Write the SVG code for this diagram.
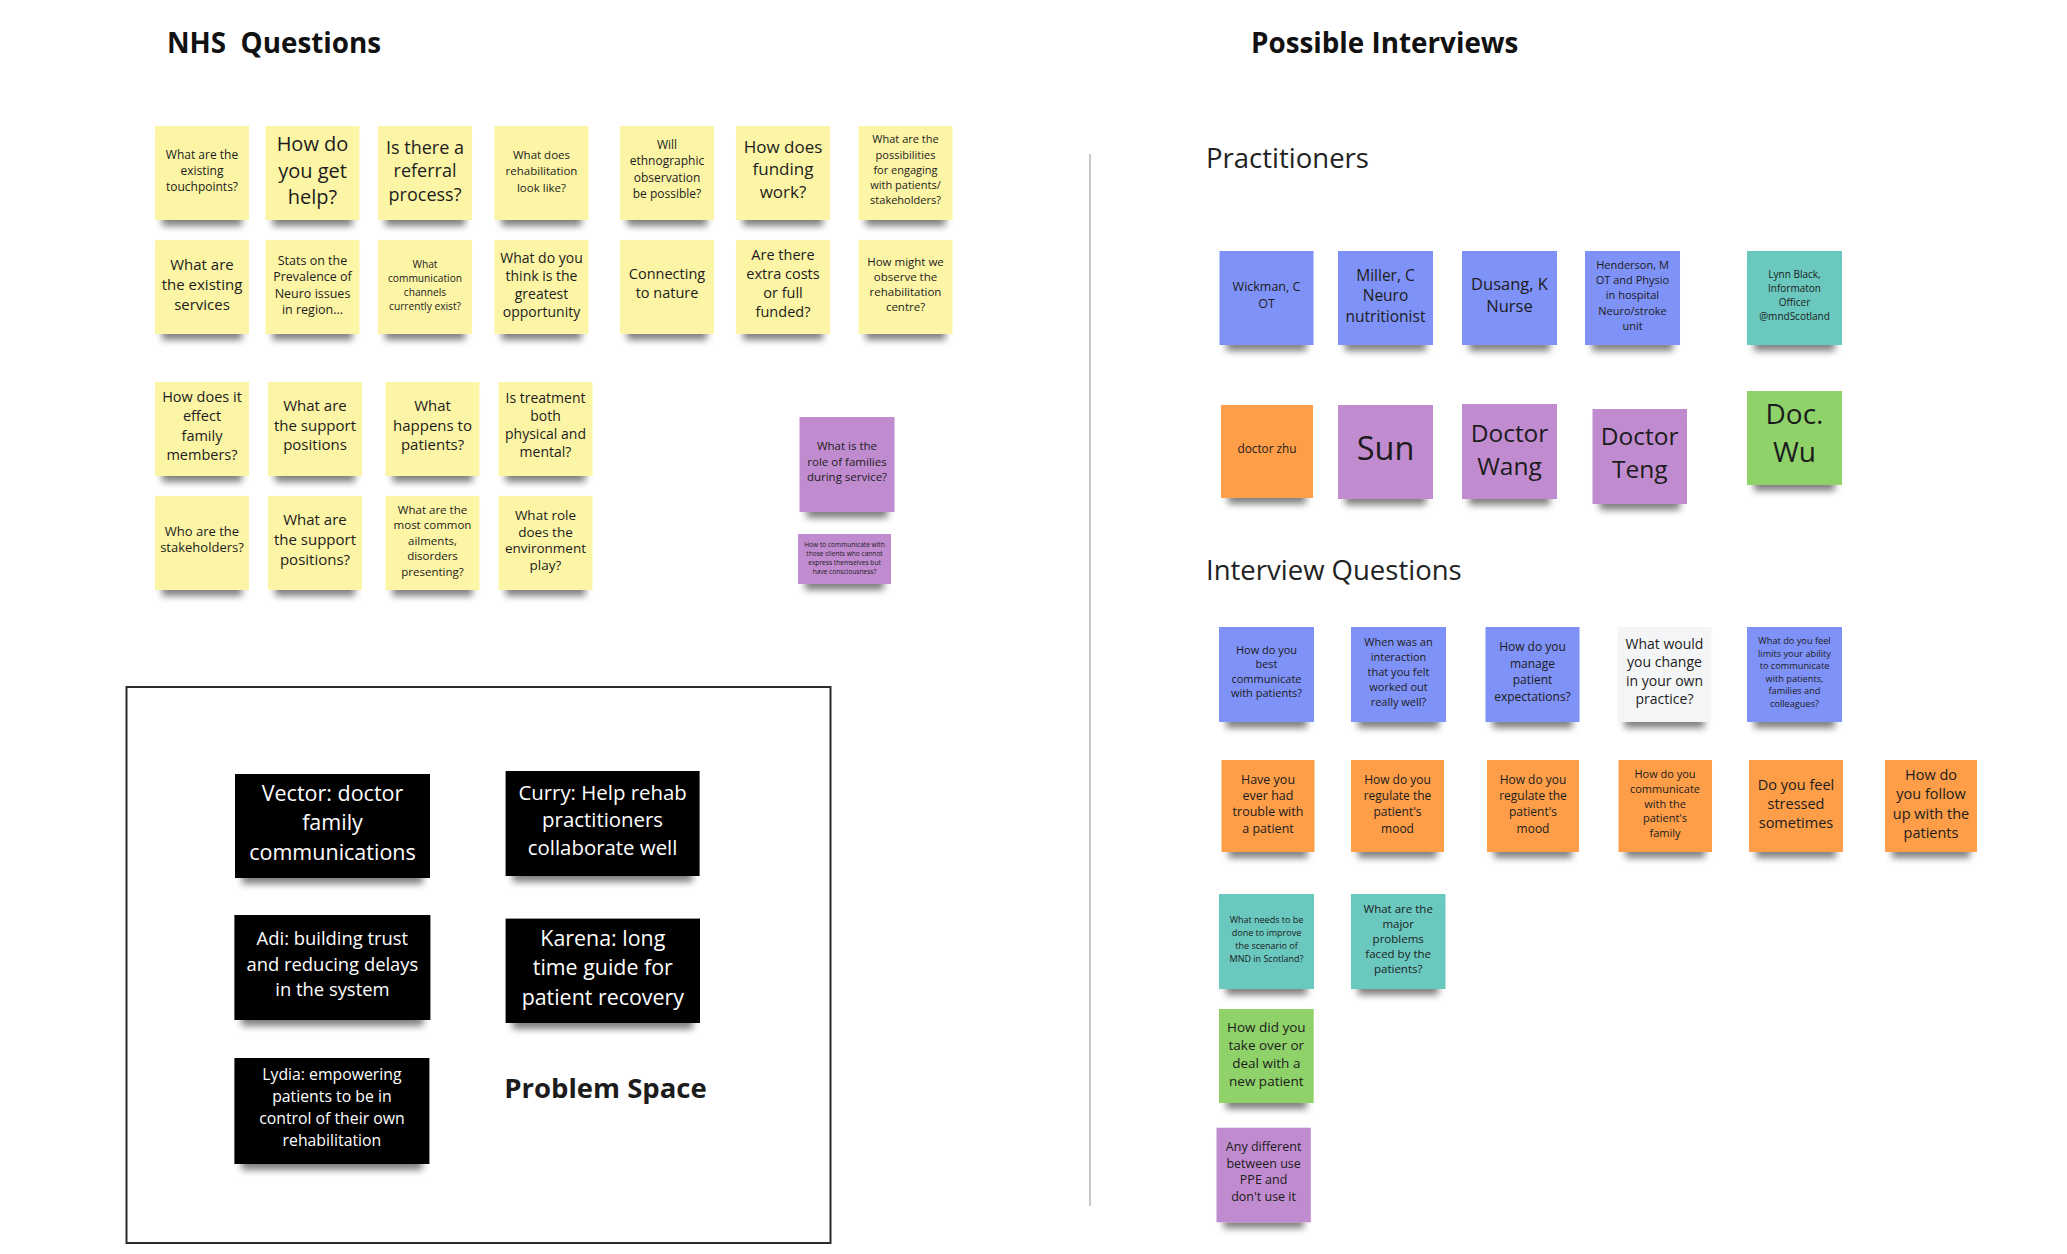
<svg xmlns="http://www.w3.org/2000/svg" width="2067" height="1254" viewBox="0 0 2067 1254">
<defs>
<filter id="sh" x="-20%" y="-20%" width="140%" height="150%">
<feMorphology in="SourceAlpha" operator="erode" radius="7 2" result="e"/>
<feOffset in="e" dy="8" result="o"/>
<feGaussianBlur in="o" stdDeviation="3.5" result="b"/>
<feComponentTransfer in="b" result="c"><feFuncA type="linear" slope="0.5"/></feComponentTransfer>
<feMerge><feMergeNode in="c"/><feMergeNode in="SourceGraphic"/></feMerge>
</filter>
<style>
.n{filter:url(#sh)}
.y{fill:#fdf5a6}.b{fill:#7f92f7}.t{fill:#6bc8bf}.o{fill:#fe9e4a}.p{fill:#c18bcf}.g{fill:#8fd26a}.w{fill:#f4f5f7}.k{fill:#050505}
text{font-family:"Open Sans","Noto Sans","Liberation Sans",sans-serif;text-anchor:middle;fill:#1c1c1c}
.wt{fill:#ffffff}
.h{font-weight:bold;font-size:27.8px;text-anchor:start;fill:#111}
.s{font-size:27.5px;text-anchor:start;fill:#222}
</style>
</defs>
<rect width="2067" height="1254" fill="#ffffff"/>
<text class="h" x="167" y="53" xml:space="preserve">NHS  Questions</text>
<text class="h" x="1251" y="53">Possible Interviews</text>
<text class="s" x="1206" y="168">Practitioners</text>
<text class="s" x="1206" y="580">Interview Questions</text>
<rect x="126.5" y="687" width="704" height="556" fill="none" stroke="#2b2b2b" stroke-width="2"/>
<line x1="1090" y1="154" x2="1090" y2="1206" stroke="#c8c8c8" stroke-width="2"/>

<g id="q1"><rect class="n y" x="155" y="126" width="94" height="94"/><text font-size="12" x="202" y="158.6"><tspan x="202">What are the</tspan><tspan x="202" dy="16.3">existing</tspan><tspan x="202" dy="16.3">touchpoints?</tspan></text></g>
<g id="q2"><rect class="n y" x="265.5" y="126" width="94" height="94"/><text font-size="20" x="312.5" y="151"><tspan x="312.5">How do</tspan><tspan x="312.5" dy="26.5">you get</tspan><tspan x="312.5" dy="26.5">help?</tspan></text></g>
<g id="q3"><rect class="n y" x="378" y="126" width="94" height="94"/><text font-size="18" x="425" y="153.6"><tspan x="425">Is there a</tspan><tspan x="425" dy="23.8">referral</tspan><tspan x="425" dy="23.8">process?</tspan></text></g>
<g id="q4"><rect class="n y" x="494.5" y="126" width="94" height="94"/><text font-size="11.5" x="541.5" y="158.5"><tspan x="541.5">What does</tspan><tspan x="541.5" dy="16.7">rehabilitation</tspan><tspan x="541.5" dy="16.7">look like?</tspan></text></g>
<g id="q5"><rect class="n y" x="620" y="126" width="94" height="94"/><text font-size="12" x="667" y="148.6"><tspan x="667">Will</tspan><tspan x="667" dy="16.6">ethnographic</tspan><tspan x="667" dy="16.6">observation</tspan><tspan x="667" dy="16.6">be possible?</tspan></text></g>
<g id="q6"><rect class="n y" x="736" y="126" width="94" height="94"/><text font-size="17" x="783" y="152.6"><tspan x="783">How does</tspan><tspan x="783" dy="22.5">funding</tspan><tspan x="783" dy="22.5">work?</tspan></text></g>
<g id="q7"><rect class="n y" x="858.5" y="126" width="94" height="94"/><text font-size="11" x="905.5" y="143.3"><tspan x="905.5">What are the</tspan><tspan x="905.5" dy="15.2">possibilities</tspan><tspan x="905.5" dy="15.2">for engaging</tspan><tspan x="905.5" dy="15.2">with patients/</tspan><tspan x="905.5" dy="15.2">stakeholders?</tspan></text></g>

<g id="q8"><rect class="n y" x="155" y="240" width="94" height="94"/><text font-size="15" x="202" y="270.3"><tspan x="202">What are</tspan><tspan x="202" dy="20">the existing</tspan><tspan x="202" dy="20">services</tspan></text></g>
<g id="q9"><rect class="n y" x="265.5" y="240" width="94" height="94"/><text font-size="12.5" x="312.5" y="265"><tspan x="312.5">Stats on the</tspan><tspan x="312.5" dy="16.4">Prevalence of</tspan><tspan x="312.5" dy="16.4">Neuro issues</tspan><tspan x="312.5" dy="16.4">in region...</tspan></text></g>
<g id="q10"><rect class="n y" x="378" y="240" width="94" height="94"/><text font-size="10.2" x="425" y="267.7"><tspan x="425">What</tspan><tspan x="425" dy="14.2">communication</tspan><tspan x="425" dy="14.2">channels</tspan><tspan x="425" dy="14.2">currently exist?</tspan></text></g>
<g id="q11"><rect class="n y" x="494.5" y="240" width="94" height="94"/><text font-size="14" x="541.5" y="262.6"><tspan x="541.5">What do you</tspan><tspan x="541.5" dy="18.2">think is the</tspan><tspan x="541.5" dy="18.2">greatest</tspan><tspan x="541.5" dy="18.2">opportunity</tspan></text></g>
<g id="q12"><rect class="n y" x="620" y="240" width="94" height="94"/><text font-size="14.5" x="667" y="279"><tspan x="667">Connecting</tspan><tspan x="667" dy="19.3">to nature</tspan></text></g>
<g id="q13"><rect class="n y" x="736" y="240" width="94" height="94"/><text font-size="14.5" x="783" y="260"><tspan x="783">Are there</tspan><tspan x="783" dy="19.1">extra costs</tspan><tspan x="783" dy="19.1">or full</tspan><tspan x="783" dy="19.1">funded?</tspan></text></g>
<g id="q14"><rect class="n y" x="858.5" y="240" width="94" height="94"/><text font-size="11.5" x="905.5" y="265.7"><tspan x="905.5">How might we</tspan><tspan x="905.5" dy="15">observe the</tspan><tspan x="905.5" dy="15">rehabilitation</tspan><tspan x="905.5" dy="15">centre?</tspan></text></g>

<g id="q15"><rect class="n y" x="155" y="382" width="94" height="94"/><text font-size="14.5" x="202" y="401.7"><tspan x="202">How does it</tspan><tspan x="202" dy="19.4">effect</tspan><tspan x="202" dy="19.4">family</tspan><tspan x="202" dy="19.4">members?</tspan></text></g>
<g id="q16"><rect class="n y" x="268" y="382" width="94" height="94"/><text font-size="15" x="315" y="411.3"><tspan x="315">What are</tspan><tspan x="315" dy="19.5">the support</tspan><tspan x="315" dy="19.5">positions</tspan></text></g>
<g id="q17"><rect class="n y" x="385.5" y="382" width="94" height="94"/><text font-size="15" x="432.5" y="411.3"><tspan x="432.5">What</tspan><tspan x="432.5" dy="19.5">happens to</tspan><tspan x="432.5" dy="19.5">patients?</tspan></text></g>
<g id="q18"><rect class="n y" x="498.5" y="382" width="94" height="94"/><text font-size="14" x="545.5" y="403"><tspan x="545.5">Is treatment</tspan><tspan x="545.5" dy="18">both</tspan><tspan x="545.5" dy="18">physical and</tspan><tspan x="545.5" dy="18">mental?</tspan></text></g>

<g id="q19"><rect class="n y" x="155" y="496" width="94" height="94"/><text font-size="13" x="202" y="536"><tspan x="202">Who are the</tspan><tspan x="202" dy="16">stakeholders?</tspan></text></g>
<g id="q20"><rect class="n y" x="268" y="496" width="94" height="94"/><text font-size="15" x="315" y="525.3"><tspan x="315">What are</tspan><tspan x="315" dy="20">the support</tspan><tspan x="315" dy="20">positions?</tspan></text></g>
<g id="q21"><rect class="n y" x="385.5" y="496" width="94" height="94"/><text font-size="11.5" x="432.5" y="514"><tspan x="432.5">What are the</tspan><tspan x="432.5" dy="15.4">most common</tspan><tspan x="432.5" dy="15.4">ailments,</tspan><tspan x="432.5" dy="15.4">disorders</tspan><tspan x="432.5" dy="15.4">presenting?</tspan></text></g>
<g id="q22"><rect class="n y" x="498.5" y="496" width="94" height="94"/><text font-size="13.5" x="545.5" y="519.8"><tspan x="545.5">What role</tspan><tspan x="545.5" dy="16.7">does the</tspan><tspan x="545.5" dy="16.7">environment</tspan><tspan x="545.5" dy="16.7">play?</tspan></text></g>

<g id="q23"><rect class="n p" x="799.5" y="417" width="95" height="95"/><text font-size="11.5" x="847" y="450.3"><tspan x="847">What is the</tspan><tspan x="847" dy="15.2">role of families</tspan><tspan x="847" dy="15.2">during service?</tspan></text></g>
<g id="q24"><rect class="n p" x="798" y="534" width="93" height="50"/><text font-size="6.6" x="844.5" y="546.8"><tspan x="844.5">How to communicate with</tspan><tspan x="844.5" dy="9.1">those clients who cannot</tspan><tspan x="844.5" dy="9.1">express themselves but</tspan><tspan x="844.5" dy="9.1">have consciousness?</tspan></text></g>

<g id="pr1"><rect class="n b" x="1219.5" y="251" width="94" height="94"/><text font-size="12.5" x="1266.5" y="291"><tspan x="1266.5">Wickman, C</tspan><tspan x="1266.5" dy="17.3">OT</tspan></text></g>
<g id="pr2"><rect class="n b" x="1338" y="251" width="95" height="94"/><text font-size="15.5" x="1385.5" y="280.5"><tspan x="1385.5">Miller, C</tspan><tspan x="1385.5" dy="20.5">Neuro</tspan><tspan x="1385.5" dy="20.5">nutritionist</tspan></text></g>
<g id="pr3"><rect class="n b" x="1462" y="251" width="95" height="94"/><text font-size="16.5" x="1509.5" y="290"><tspan x="1509.5">Dusang, K</tspan><tspan x="1509.5" dy="22">Nurse</tspan></text></g>
<g id="pr4"><rect class="n b" x="1585" y="251" width="95" height="94"/><text font-size="11" x="1632.5" y="269"><tspan x="1632.5">Henderson, M</tspan><tspan x="1632.5" dy="15.2">OT and Physio</tspan><tspan x="1632.5" dy="15.2">in hospital</tspan><tspan x="1632.5" dy="15.2">Neuro/stroke</tspan><tspan x="1632.5" dy="15.2">unit</tspan></text></g>
<g id="pr5"><rect class="n t" x="1747" y="251" width="95" height="94"/><text font-size="10" x="1794.5" y="277.8"><tspan x="1794.5">Lynn Black,</tspan><tspan x="1794.5" dy="14">Informaton</tspan><tspan x="1794.5" dy="14">Officer</tspan><tspan x="1794.5" dy="14">@mndScotland</tspan></text></g>

<g id="pr6"><rect class="n o" x="1221" y="405" width="92" height="93"/><text font-size="11.8" x="1267" y="452.5">doctor zhu</text></g>
<g id="pr7"><rect class="n p" x="1338" y="405" width="95" height="94"/><text font-size="32.5" x="1385.5" y="460">Sun</text></g>
<g id="pr8"><rect class="n p" x="1462" y="404" width="95" height="95"/><text font-size="24.5" x="1509.5" y="441.7"><tspan x="1509.5">Doctor</tspan><tspan x="1509.5" dy="33.3">Wang</tspan></text></g>
<g id="pr9"><rect class="n p" x="1592.5" y="409" width="94.5" height="95"/><text font-size="24.5" x="1639.7" y="445"><tspan x="1639.7">Doctor</tspan><tspan x="1639.7" dy="33">Teng</tspan></text></g>
<g id="pr10"><rect class="n g" x="1747" y="391" width="95" height="94"/><text font-size="28" x="1794.5" y="424.3"><tspan x="1794.5">Doc.</tspan><tspan x="1794.5" dy="37.4">Wu</tspan></text></g>

<g id="iq1"><rect class="n b" x="1219" y="627" width="95" height="95"/><text font-size="11" x="1266.5" y="653.8"><tspan x="1266.5">How do you</tspan><tspan x="1266.5" dy="14.4">best</tspan><tspan x="1266.5" dy="14.4">communicate</tspan><tspan x="1266.5" dy="14.4">with patients?</tspan></text></g>
<g id="iq2"><rect class="n b" x="1351" y="627" width="95" height="95"/><text font-size="11" x="1398.5" y="645.5"><tspan x="1398.5">When was an</tspan><tspan x="1398.5" dy="15">interaction</tspan><tspan x="1398.5" dy="15">that you felt</tspan><tspan x="1398.5" dy="15">worked out</tspan><tspan x="1398.5" dy="15">really well?</tspan></text></g>
<g id="iq3"><rect class="n b" x="1485.5" y="627" width="94" height="95"/><text font-size="12" x="1532.5" y="651"><tspan x="1532.5">How do you</tspan><tspan x="1532.5" dy="16.7">manage</tspan><tspan x="1532.5" dy="16.7">patient</tspan><tspan x="1532.5" dy="16.7">expectations?</tspan></text></g>
<g id="iq4"><rect class="n w" x="1617.5" y="627" width="94" height="95"/><text font-size="14" x="1664.5" y="649"><tspan x="1664.5">What would</tspan><tspan x="1664.5" dy="18.4">you change</tspan><tspan x="1664.5" dy="18.4">in your own</tspan><tspan x="1664.5" dy="18.4">practice?</tspan></text></g>
<g id="iq5"><rect class="n b" x="1747" y="627" width="95" height="95"/><text font-size="9.2" x="1794.5" y="644"><tspan x="1794.5">What do you feel</tspan><tspan x="1794.5" dy="12.5">limits your ability</tspan><tspan x="1794.5" dy="12.5">to communicate</tspan><tspan x="1794.5" dy="12.5">with patients,</tspan><tspan x="1794.5" dy="12.5">families and</tspan><tspan x="1794.5" dy="12.5">colleagues?</tspan></text></g>

<g id="iq6"><rect class="n o" x="1221.5" y="760" width="93" height="92"/><text font-size="12.5" x="1268" y="783.7"><tspan x="1268">Have you</tspan><tspan x="1268" dy="16.3">ever had</tspan><tspan x="1268" dy="16.3">trouble with</tspan><tspan x="1268" dy="16.3">a patient</tspan></text></g>
<g id="iq7"><rect class="n o" x="1351" y="760" width="93" height="92"/><text font-size="12" x="1397.5" y="783.7"><tspan x="1397.5">How do you</tspan><tspan x="1397.5" dy="16.3">regulate the</tspan><tspan x="1397.5" dy="16.3">patient's</tspan><tspan x="1397.5" dy="16.3">mood</tspan></text></g>
<g id="iq8"><rect class="n o" x="1487" y="760" width="92" height="92"/><text font-size="12" x="1533" y="783.7"><tspan x="1533">How do you</tspan><tspan x="1533" dy="16.3">regulate the</tspan><tspan x="1533" dy="16.3">patient's</tspan><tspan x="1533" dy="16.3">mood</tspan></text></g>
<g id="iq9"><rect class="n o" x="1618.5" y="760" width="93.5" height="92"/><text font-size="11" x="1665" y="778"><tspan x="1665">How do you</tspan><tspan x="1665" dy="14.8">communicate</tspan><tspan x="1665" dy="14.8">with the</tspan><tspan x="1665" dy="14.8">patient's</tspan><tspan x="1665" dy="14.8">family</tspan></text></g>
<g id="iq10"><rect class="n o" x="1749" y="760" width="94" height="92"/><text font-size="14.5" x="1796" y="789.5"><tspan x="1796">Do you feel</tspan><tspan x="1796" dy="19.2">stressed</tspan><tspan x="1796" dy="19.2">sometimes</tspan></text></g>
<g id="iq11"><rect class="n o" x="1885" y="760" width="92" height="92"/><text font-size="14.5" x="1931" y="779.5"><tspan x="1931">How do</tspan><tspan x="1931" dy="19.5">you follow</tspan><tspan x="1931" dy="19.5">up with the</tspan><tspan x="1931" dy="19.5">patients</tspan></text></g>

<g id="iq12"><rect class="n t" x="1219" y="894" width="95" height="95"/><text font-size="9" x="1266.5" y="923.3"><tspan x="1266.5">What needs to be</tspan><tspan x="1266.5" dy="12.8">done to improve</tspan><tspan x="1266.5" dy="12.8">the scenario of</tspan><tspan x="1266.5" dy="12.8">MND in Scotland?</tspan></text></g>
<g id="iq13"><rect class="n t" x="1351" y="894" width="94.5" height="95"/><text font-size="11.5" x="1398.2" y="912.5"><tspan x="1398.2">What are the</tspan><tspan x="1398.2" dy="15.2">major</tspan><tspan x="1398.2" dy="15.2">problems</tspan><tspan x="1398.2" dy="15.2">faced by the</tspan><tspan x="1398.2" dy="15.2">patients?</tspan></text></g>
<g id="iq14"><rect class="n g" x="1219" y="1009" width="94.7" height="94"/><text font-size="13.5" x="1266.3" y="1031.5"><tspan x="1266.3">How did you</tspan><tspan x="1266.3" dy="18">take over or</tspan><tspan x="1266.3" dy="18">deal with a</tspan><tspan x="1266.3" dy="18">new patient</tspan></text></g>
<g id="iq15"><rect class="n p" x="1216.5" y="1127.7" width="94.3" height="94.6"/><text font-size="12.5" x="1263.6" y="1151"><tspan x="1263.6">Any different</tspan><tspan x="1263.6" dy="16.5">between use</tspan><tspan x="1263.6" dy="16.5">PPE and</tspan><tspan x="1263.6" dy="16.5">don't use it</tspan></text></g>

<g id="ps1"><rect class="n k" x="235" y="774" width="195" height="104"/><text class="wt" font-size="21.5" x="332.5" y="801"><tspan x="332.5">Vector: doctor</tspan><tspan x="332.5" dy="29.3">family</tspan><tspan x="332.5" dy="29.3">communications</tspan></text></g>
<g id="ps2"><rect class="n k" x="505.6" y="771" width="194" height="105"/><text class="wt" font-size="20.4" x="602.6" y="799.6"><tspan x="602.6">Curry: Help rehab</tspan><tspan x="602.6" dy="27.8">practitioners</tspan><tspan x="602.6" dy="27.8">collaborate well</tspan></text></g>
<g id="ps3"><rect class="n k" x="234.4" y="915" width="196" height="105"/><text class="wt" font-size="18.4" x="332.4" y="945.3"><tspan x="332.4">Adi: building trust</tspan><tspan x="332.4" dy="25.4">and reducing delays</tspan><tspan x="332.4" dy="25.4">in the system</tspan></text></g>
<g id="ps4"><rect class="n k" x="505.6" y="918.6" width="194.4" height="104.4"/><text class="wt" font-size="21.4" x="602.8" y="946"><tspan x="602.8">Karena: long</tspan><tspan x="602.8" dy="29.4">time guide for</tspan><tspan x="602.8" dy="29.4">patient recovery</tspan></text></g>
<g id="ps5"><rect class="n k" x="234.4" y="1058" width="195" height="106"/><text class="wt" font-size="15.8" x="331.9" y="1080"><tspan x="331.9">Lydia: empowering</tspan><tspan x="331.9" dy="22.1">patients to be in</tspan><tspan x="331.9" dy="22.1">control of their own</tspan><tspan x="331.9" dy="22.1">rehabilitation</tspan></text></g>
<text x="605.5" y="1098" font-size="27.5" font-weight="bold" fill="#111">Problem Space</text>
</svg>
